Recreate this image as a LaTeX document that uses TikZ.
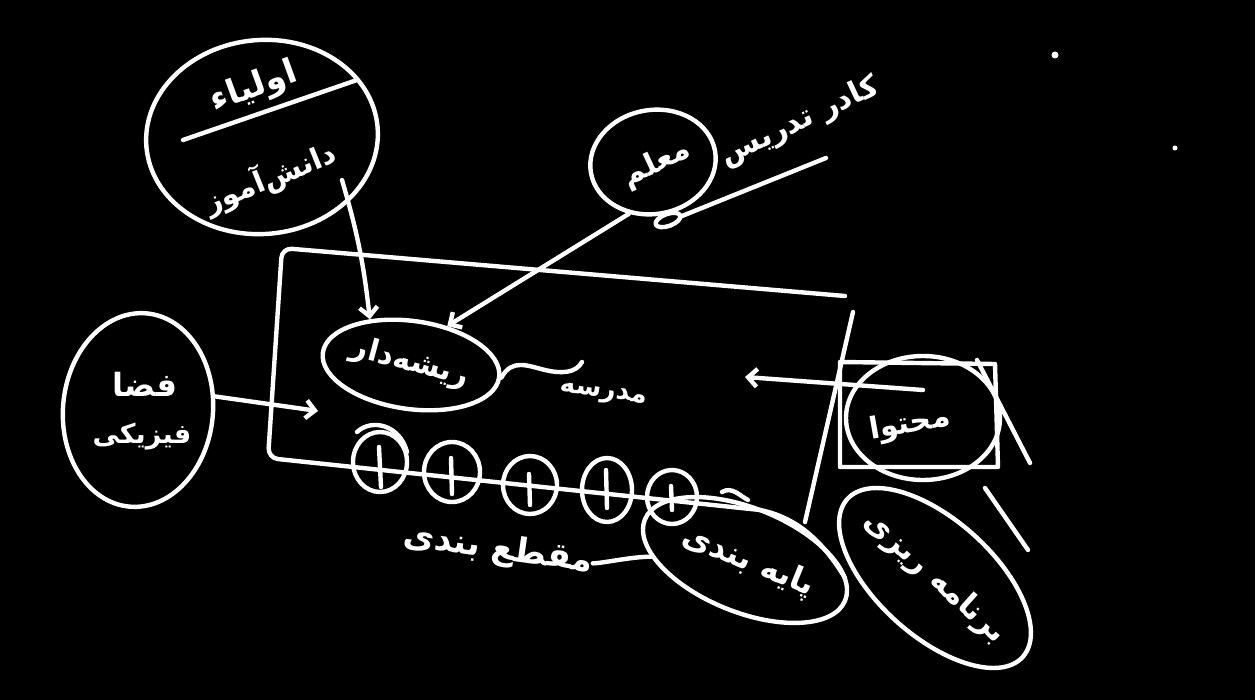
\documentclass[tikz,border=0pt]{standalone}
\usepackage{fontspec}
\newfontfamily\arabicfont[Script=Arabic]{DejaVu Sans Bold}
\TeXXeTstate=1
\usetikzlibrary{shapes.geometric,arrows.meta}
\newcommand{\rtltxt}[1]{\beginR #1\endR}
\newcommand{\fsz}[1]{\arabicfont\fontsize{#1}{#1}\selectfont}
\begin{document}
\begin{tikzpicture}[x=1pt,y=-1pt, line cap=round, line join=round,
 ink/.style={draw=white, line width=4.4pt},
 blob/.style={ink, ellipse, inner sep=0pt},
 lbl/.style={text=white, font=\fsz{34}, inner sep=0pt},
 arr/.style={ink, -{Straight Barb[length=9pt,width=18pt,line width=4.4pt]}}
]
\fill[black] (0,0) rectangle (1255,700);
\useasboundingbox (0,0) rectangle (1255,700);

% parents / students
\node[blob, minimum width=232pt, minimum height=194pt, rotate=5] (parents) at (262,137) {};
\node[lbl, font=\fsz{34}, rotate=20] (parentsT) at (254,88) {\rtltxt{اولیاء}};
\node[lbl, font=\fsz{29}, rotate=22] (studentT) at (270,178) {\rtltxt{دانش‌آموز}};
\draw[ink] (183,140) -- (357,80);
\coordinate (pS) at (342,180);

% teacher
\node[blob, minimum width=126pt, minimum height=104pt, rotate=10] (teacher) at (653,162) {};
\node[lbl, font=\fsz{30}, rotate=25] (teacherT) at (657,164) {\rtltxt{معلم}};
\node[lbl, font=\fsz{30}, rotate=25] (staff) at (800,122) {\rtltxt{کادر تدریس}};
\draw[ink] (826,158) -- (682,216);
\draw[ink, rotate around={20:(668,220)}] (668,220) ellipse (13pt and 6pt);

% school box
\draw[ink, rounded corners=10pt] (845,296) -- (282,248) -- (268,458) -- (760,510);
\draw[ink] (760,510) .. controls (800,518) and (825,545) .. (845,578);
\draw[ink] (853,312) -- (805,522);

% rooted oval
\node[blob, minimum width=178pt, minimum height=88pt, rotate=-8] (rooted) at (411,365) {};
\node[lbl, font=\fsz{30}, rotate=-15] (rootedT) at (410,363) {\rtltxt{ریشه‌دار}};
\node[lbl, font=\fsz{26}, rotate=-8] (school) at (603,395) {\rtltxt{مدرسه}};
\coordinate (waveEnd) at (582,362);
\draw[ink] (rooted.east) .. controls (512,358) and (528,366) .. (545,370) .. controls (562,374) and (576,373) .. (waveEnd);

\draw[arr] (pS) to[bend left=5] (rooted.140);
\draw[arr] (teacher.235) -- (rooted.55);

% beads
\node[blob, minimum width=54pt, minimum height=60pt] (b1) at (380,462) {};
\node[blob, minimum width=56pt, minimum height=60pt] (b2) at (452,472) {};
\node[blob, minimum width=54pt, minimum height=58pt] (b3) at (530,485) {};
\node[blob, minimum width=50pt, minimum height=64pt] (b4) at (607,490) {};
\node[blob, minimum width=50pt, minimum height=54pt] (b5) at (672,497) {};
\draw[ink] (379,447) -- (381,487);
\draw[ink] (357,432) .. controls (372,418) and (400,425) .. (407,452);
\draw[ink] (451,458) -- (452,494);
\draw[ink] (529,474) -- (530,505);
\draw[ink] (606,470) -- (607,508);
\draw[ink] (671,486) -- (672,510);
\draw[ink] (722,492) .. controls (732,486) and (740,496) .. (748,500);

% physical space
\node[blob, minimum width=150pt, minimum height=194pt, rotate=-5] (space) at (138,410) {};
\node[lbl, font=\fsz{32}] (spaceT1) at (145,384) {\rtltxt{فضا}};
\node[lbl, font=\fsz{27}] (spaceT2) at (142,437) {\rtltxt{فیزیکی}};
\coordinate (spaceEnd) at (318,411);
\draw[arr] (space.15) -- (spaceEnd);

% content
\draw[ink] (840,362) -- (995,364) -- (998,467) -- (840,467) -- cycle;
\draw[ink] (977,360) -- (1030,463);
\node[blob, minimum width=154pt, minimum height=124pt] (content) at (923,418) {};
\node[lbl, font=\fsz{30}, rotate=10] (contentT) at (910,425) {\rtltxt{محتوا}};
\coordinate (cS) at (923,390);
\coordinate (cE) at (745,377);
\draw[arr] (cS) -- (cE);

% levels
\node[lbl, font=\fsz{34}, rotate=-8] (levels) at (498,550) {\rtltxt{مقطع بندی}};
\node[blob, minimum width=216pt, minimum height=104pt, rotate=-22] (grade) at (745,560) {};
\node[lbl, font=\fsz{32}, rotate=-22] (gradeT) at (748,562) {\rtltxt{پایه بندی}};
\draw[ink] (levels.east) .. controls ([xshift=10pt]levels.east) and ([xshift=-20pt]grade.200) .. (grade.200);

% planning
\node[blob, minimum width=236pt, minimum height=116pt, rotate=-42] (plan) at (935,578) {};
\node[lbl, font=\fsz{31}, rotate=-42] (planT) at (935,578) {\rtltxt{برنامه ریزی}};
\draw[ink] (985,488) -- (1028,550);

% dots
\fill[white] (1055,55) circle (3.5pt);
\fill[white] (1175,148) circle (2.5pt);
\end{tikzpicture}
\end{document}
